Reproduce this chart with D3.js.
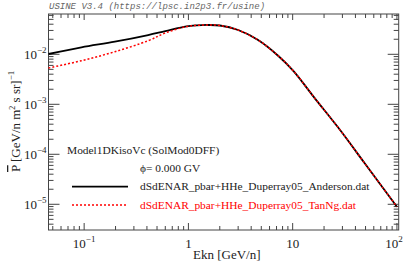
<!DOCTYPE html>
<head>
  <meta charset="utf-8">
  <style>
    body { margin: 0; background: #fff; }
    svg text { font-family: 'Liberation Serif', 'Times New Roman', serif; }
    .ttl { font-family: 'Liberation Mono', 'DejaVu Sans Mono', monospace; font-style: italic; }
  </style>
</head>
<body>
  <script src="https://cdn.jsdelivr.net/npm/d3@7"></script>
  <script>
    const width = 407, height = 265;
    const margin = {top: 14, right: 8.3, bottom: 35, left: 48.5};

    // values
    const energy = [0.0455, 0.0942, 0.197, 0.411, 0.6, 0.957, 1.2, 1.545, 2.0, 3.0, 4.66, 7.25, 10.1, 16.4, 28.5, 49.5, 100];
    const fluxAnderson = [0.01014, 0.0138, 0.0179, 0.0243, 0.0292, 0.0363, 0.038, 0.0386, 0.0377, 0.0306, 0.0193, 0.00937, 0.0047, 0.0013, 3.06e-4, 6.45e-5, 8.95e-6];
    const fluxTanNg = [0.00532, 0.00745, 0.01127, 0.0187, 0.0267, 0.0358, 0.0379, 0.0386, 0.0377, 0.0306, 0.0193, 0.00937, 0.0047, 0.0013, 3.06e-4, 6.45e-5, 8.95e-6];
    const xMajor = [0.1, 1, 10, 100];
    const xLabels = [["10", "−1"], ["1", ""], ["10", ""], ["10", "2"]];
    const yMajor = [1e-5, 1e-4, 1e-3, 1e-2];
    const yLabels = [["10", "−5"], ["10", "−4"], ["10", "−3"], ["10", "−2"]];
    const legendNames = ["dSdENAR_pbar+HHe_Duperray05_Anderson.dat", "dSdENAR_pbar+HHe_Duperray05_TanNg.dat"];

    const svg = d3.select("body").append("svg")
      .attr("width", width).attr("height", height);

    const x = d3.scaleLog().domain([0.0455, 104]).range([margin.left, width - margin.right]);
    const y = d3.scaleLog().domain([3.06e-6, 0.064]).range([height - margin.bottom, margin.top]);
    const x0 = x.range()[0], x1 = x.range()[1], y0 = y.range()[0], y1 = y.range()[1];

    // title
    svg.append("text").attr("class", "ttl")
      .attr("x", 49).attr("y", 9)
      .attr("font-size", 9).attr("fill", "#666")
      .text("USINE V3.4 (https://lpsc.in2p3.fr/usine)");

    // minor tick values
    const xMinor = [], yMinor = [];
    for (let e = -2; e <= 2; e++)
      for (let m = 2; m <= 9; m++) {
        const v = m * Math.pow(10, e);
        if (v > x.domain()[0] && v < x.domain()[1]) xMinor.push(v);
      }
    for (let e = -6; e <= -2; e++)
      for (let m = 2; m <= 9; m++) {
        const v = m * Math.pow(10, e);
        if (v > y.domain()[0] && v < y.domain()[1]) yMinor.push(v);
      }

    const ticks = svg.append("g").attr("stroke", "#444").attr("stroke-width", 1);
    // bottom / top
    xMajor.forEach(v => {
      ticks.append("line").attr("x1", x(v)).attr("x2", x(v)).attr("y1", y0).attr("y2", y0 - 7);
      ticks.append("line").attr("x1", x(v)).attr("x2", x(v)).attr("y1", y1).attr("y2", y1 + 6);
    });
    xMinor.forEach(v => {
      ticks.append("line").attr("x1", x(v)).attr("x2", x(v)).attr("y1", y0).attr("y2", y0 - 4);
      ticks.append("line").attr("x1", x(v)).attr("x2", x(v)).attr("y1", y1).attr("y2", y1 + 4);
    });
    // left / right
    yMajor.forEach(v => {
      ticks.append("line").attr("y1", y(v)).attr("y2", y(v)).attr("x1", x0).attr("x2", x0 + 11);
      ticks.append("line").attr("y1", y(v)).attr("y2", y(v)).attr("x1", x1).attr("x2", x1 - 11);
    });
    yMinor.forEach(v => {
      ticks.append("line").attr("y1", y(v)).attr("y2", y(v)).attr("x1", x0).attr("x2", x0 + 5);
      ticks.append("line").attr("y1", y(v)).attr("y2", y(v)).attr("x1", x1).attr("x2", x1 - 5);
    });

    // frame
    svg.append("rect")
      .attr("x", x0).attr("y", y1).attr("width", x1 - x0).attr("height", y0 - y1)
      .attr("fill", "none").attr("stroke", "#444").attr("stroke-width", 1);

    // tick labels
    function powLabel(g, lab, px, py, anchor) {
      const t = g.append("text").attr("x", px).attr("y", py)
        .attr("text-anchor", anchor).attr("fill", "#222").attr("font-size", 13);
      t.append("tspan").text(lab[0]);
      if (lab[1]) t.append("tspan").attr("dy", -6).attr("font-size", 9).text(lab[1]);
    }
    const labs = svg.append("g");
    yMajor.forEach((v, i) => powLabel(labs, yLabels[i], 46.5, y(v) + 5, "end"));
    xMajor.forEach((v, i) => powLabel(labs, xLabels[i], x(v) - (i == 3 ? 3 : 0), 247.5, "middle"));

    // axis titles
    svg.append("text").attr("x", 193).attr("y", 259)
      .attr("font-size", 13).attr("fill", "#222")
      .text("Ekn [GeV/n]");

    const yt = svg.append("text")
      .attr("transform", "translate(20,172) rotate(-90)")
      .attr("font-size", 13).attr("fill", "#222");
    yt.append("tspan").attr("text-decoration", "overline").text("P");
    yt.append("tspan").text(" [GeV/n m");
    yt.append("tspan").attr("dy", -5).attr("font-size", 8).text("2");
    yt.append("tspan").attr("dy", 5).text(" s sr]");
    yt.append("tspan").attr("dy", -6).attr("font-size", 9).text("−1");

    // curves
    const line = d3.line()
      .x(d => x(d[0])).y(d => y(d[1]))
      .curve(d3.curveCatmullRom.alpha(0.5));

    svg.append("path")
      .datum(energy.map((e, i) => [e, fluxAnderson[i]]))
      .attr("d", line).attr("fill", "none")
      .attr("stroke", "#000").attr("stroke-width", 1.8);

    svg.append("path")
      .datum(energy.map((e, i) => [e, fluxTanNg[i]]))
      .attr("d", line).attr("fill", "none")
      .attr("stroke", "#ff0000").attr("stroke-width", 1.5)
      .attr("stroke-dasharray", "2,2");

    // legend
    const leg = svg.append("g").attr("font-size", 11.4);
    leg.append("text").attr("x", 67).attr("y", 154).attr("fill", "#222").text("Model1DKisoVc (SolMod0DFF)");
    leg.append("text").attr("x", 140).attr("y", 171.5).attr("fill", "#222").text("ϕ= 0.000 GV");
    leg.append("line").attr("x1", 72).attr("x2", 128).attr("y1", 186.7).attr("y2", 186.7)
      .attr("stroke", "#000").attr("stroke-width", 1.8);
    leg.append("text").attr("x", 140).attr("y", 189.5).attr("fill", "#222").text(legendNames[0]);
    leg.append("line").attr("x1", 72).attr("x2", 128).attr("y1", 205).attr("y2", 205)
      .attr("stroke", "#ff0000").attr("stroke-width", 1.5).attr("stroke-dasharray", "2,2");
    leg.append("text").attr("x", 140).attr("y", 209).attr("fill", "#ff0000").text(legendNames[1]);
  </script>
</body>
